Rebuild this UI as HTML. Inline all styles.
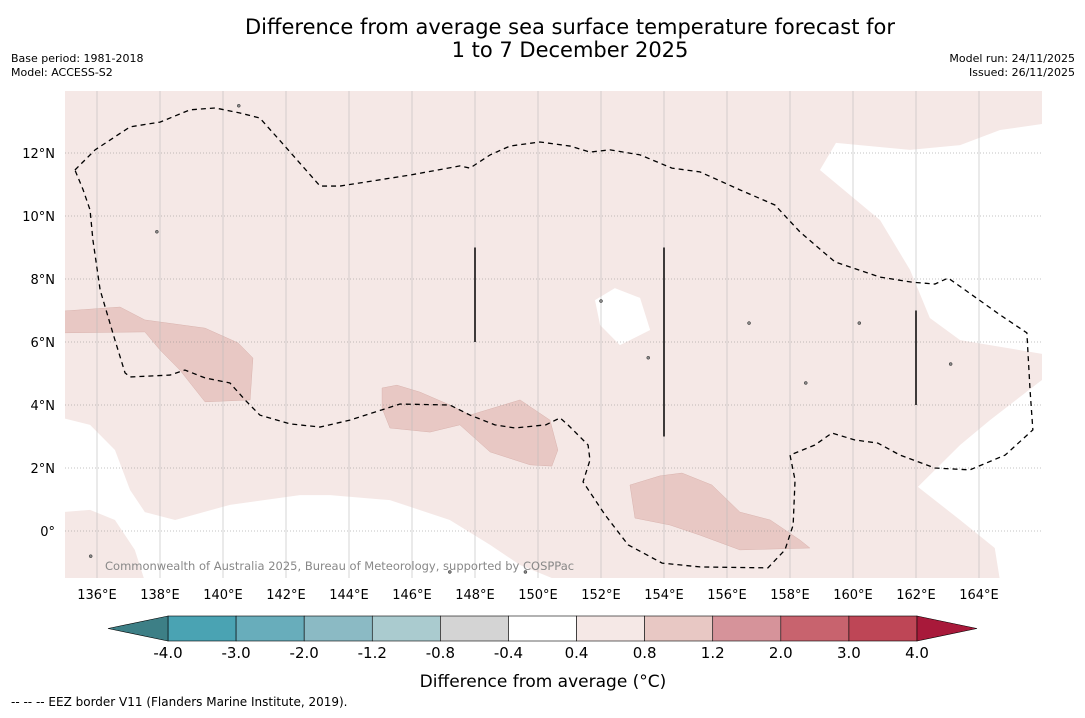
<!DOCTYPE html>
<html><head><meta charset="utf-8">
<style>
body{margin:0;background:#fff;font-family:"Liberation Sans","DejaVu Sans",sans-serif;}
svg text{font-family:"DejaVu Sans","Liberation Sans",sans-serif;}
</style></head>
<body>
<svg id="chart" width="1085" height="713" xmlns="http://www.w3.org/2000/svg">
<rect width="1085" height="713" fill="#fff"/>
<text x="570" y="34" font-size="21" text-anchor="middle">Difference from average sea surface temperature forecast for</text>
<text x="570" y="57" font-size="21" text-anchor="middle">1 to 7 December 2025</text>
<text x="11" y="62" font-size="11">Base period: 1981-2018</text>
<text x="11" y="76" font-size="11">Model: ACCESS-S2</text>
<text x="1075" y="62" font-size="11" text-anchor="end">Model run: 24/11/2025</text>
<text x="1075" y="76" font-size="11" text-anchor="end">Issued: 26/11/2025</text>
<defs><clipPath id="mapclip"><rect x="65" y="91" width="977" height="487"/></clipPath></defs>
<g id="map" clip-path="url(#mapclip)"></g>
<g id="axes"></g>
<g id="cbar"></g>
<text x="543" y="687" font-size="17" text-anchor="middle">Difference from average (°C)</text>
<text x="11" y="706" font-size="12">--  --  -- EEZ border V11 (Flanders Marine Institute, 2019).</text>
</svg>
<script>
const lonTicks=[136,138,140,142,144,146,148,150,152,154,156,158,160,162,164];
const latTicks=[0,2,4,6,8,10,12];
const levelLabels=["-4.0","-3.0","-2.0","-1.2","-0.8","-0.4","0.4","0.8","1.2","2.0","3.0","4.0"];
const levelColors=["#4aa3b3","#68adbb","#8bbac4","#aacbcf","#d4d4d4","#ffffff","#f5e8e6","#e8c8c4","#d6939a","#c8636e","#be4656"];
const underColor="#3d7f86", overColor="#a8193a";
const whiteTopRight=[[158.95,11.46],[159.46,12.32],[161.81,12.10],[163.40,12.25],[164.67,12.73],[166.2,12.95],[166.2,5.59],[163.40,6.06],[162.44,6.76],[161.81,8.29],[160.86,9.87]];
const whiteBottomRight=[[166.2,4.95],[164.35,3.52],[163.4,2.73],[162.06,1.40],[163.4,0.35],[164.5,-0.54],[164.67,-1.6],[166.2,-1.6]];
const whiteBottomLeft=[[134.9,3.59],[135.78,3.37],[136.57,2.57],[137.05,1.30],[137.52,0.6],[138.48,0.35],[140.22,0.83],[142.44,1.14],[143.4,1.14],[145.3,0.98],[147.2,0.35],[148.48,-0.44],[149.43,-1.08],[150.7,-1.6],[137.52,-1.6],[137.2,-0.6],[136.57,0.35],[135.78,0.67],[134.9,0.6]];
const whiteIsland=[[151.81,7.33],[152.44,7.71],[153.24,7.40],[153.56,6.38],[152.6,5.90],[151.97,6.54]];
const warmA=[[134.9,6.98],[136.73,7.11],[137.52,6.70],[139.43,6.44],[140.48,5.97],[140.95,5.49],[140.86,4.16],[139.43,4.10],[138.63,5.11],[138.0,5.75],[137.52,6.32],[134.9,6.29]];
const warmB=[[145.05,4.54],[145.52,4.63],[146.25,4.41],[147.2,4.0],[147.84,3.68],[149.43,4.16],[150.38,3.52],[150.63,2.57],[150.44,2.06],[149.75,2.10],[148.48,2.51],[147.52,3.37],[146.57,3.14],[145.3,3.27],[145.05,3.9]];
const warmC=[[152.92,1.46],[153.87,1.75],[154.57,1.84],[155.52,1.46],[156.41,0.6],[157.37,0.35],[158.32,-0.29],[158.63,-0.54],[156.41,-0.6],[155.14,-0.13],[154.19,0.19],[153.08,0.41]];
const eez=[[135.30,11.46],[135.94,12.10],[137.05,12.83],[138.0,12.98],[138.95,13.37],[139.75,13.43],[140.54,13.27],[141.17,13.11],[142.13,12.03],[143.08,10.95],[143.71,10.95],[145.94,11.30],[147.52,11.59],[147.84,11.52],[148.48,11.94],[149.11,12.22],[150.06,12.35],[151.02,12.22],[151.65,12.03],[152.29,12.10],[153.24,11.94],[154.25,11.52],[155.14,11.40],[156.41,10.83],[157.52,10.35],[158.32,9.49],[159.43,8.54],[160.86,8.06],[161.87,7.90],[162.60,7.84],[163.02,8.03],[163.56,7.65],[164.67,6.86],[165.52,6.29],[165.62,4.48],[165.71,3.21],[164.83,2.41],[163.71,1.94],[162.60,2.0],[161.49,2.41],[160.79,2.79],[160.06,2.89],[159.33,3.11],[158.79,2.73],[158.0,2.41],[158.16,1.62],[158.10,0.19],[157.84,-0.60],[157.30,-1.17],[155.14,-1.14],[153.94,-1.02],[152.86,-0.44],[152.13,0.51],[151.43,1.56],[151.65,2.25],[151.59,2.73],[150.95,3.37],[150.70,3.59],[150.25,3.37],[149.27,3.27],[148.63,3.37],[147.84,3.68],[147.2,4.0],[145.62,4.03],[144.03,3.52],[143.08,3.30],[142.13,3.40],[141.17,3.68],[140.70,4.16],[140.22,4.70],[139.43,4.86],[138.79,5.11],[138.32,4.95],[137.05,4.89],[136.89,5.02],[136.57,6.06],[136.10,7.65],[135.87,9.24],[135.78,10.19],[135.56,10.83],[135.30,11.46]];
const boundaryLines=[[148,9,6],[154,9,3],[162,7,4]];
const islands=[[147.2,-1.3],[140.5,13.5],[137.9,9.5],[135.8,-0.8],[160.2,6.6],[163.1,5.3],[158.5,4.7],[152.0,7.3],[153.5,5.5],[156.7,6.6],[149.6,-1.3]];

const NS="http://www.w3.org/2000/svg";
const X=lon=>97+(lon-136)*31.5;
const Y=lat=>531-lat*31.5;
function mk(tag,attrs,parent){const e=document.createElementNS(NS,tag);for(const k in attrs)e.setAttribute(k,attrs[k]);parent.appendChild(e);return e;}
const map=document.getElementById('map'),axes=document.getElementById('axes'),cbar=document.getElementById('cbar');
const bg=mk('rect',{x:65,y:91,width:977,height:487,fill:"#f5e8e6"},map);


const pts=a=>a.map(p=>X(p[0])+","+Y(p[1])).join(" ");
const regions=[["white-region-ne",whiteTopRight,"#fff"],["white-region-se",whiteBottomRight,"#fff"],["white-region-sw",whiteBottomLeft,"#fff"],["white-region-center",whiteIsland,"#fff"],["warm-region-west",warmA,"#e8c8c4"],["warm-region-central",warmB,"#e8c8c4"],["warm-region-south",warmC,"#e8c8c4"]];
regions.forEach(r=>{const p=mk('polygon',{points:pts(r[1]),fill:r[2],stroke:r[2]=="#fff"?"none":"#d9b3ae","stroke-width":0.5},map);

});
lonTicks.forEach(l=>{const g=mk('line',{x1:X(l),x2:X(l),y1:91,y2:578,stroke:"#bbb","stroke-width":0.6},map);


const t=mk('text',{x:X(l),y:599,"font-size":13,"text-anchor":"middle"},axes);t.textContent=l+"°E";

});
latTicks.forEach(l=>{const g=mk('line',{x1:65,x2:1042,y1:Y(l),y2:Y(l),stroke:"#888","stroke-width":0.6,"stroke-dasharray":"1,2"},map);


const t=mk('text',{x:55,y:Y(l)+5,"font-size":13,"text-anchor":"end"},axes);t.textContent=l==0?"0°":l+"°N";

});
const ez=mk('polyline',{points:pts(eez),fill:"none",stroke:"#000","stroke-width":1.3,"stroke-dasharray":"5,4"},map);


boundaryLines.forEach(b=>{const l=mk('line',{x1:X(b[0]),x2:X(b[0]),y1:Y(b[1]),y2:Y(b[2]),stroke:"#000","stroke-width":1.5},map);

});
islands.forEach(i=>{const c=mk('circle',{cx:X(i[0]),cy:Y(i[1]),r:1.5,fill:"#888",stroke:"#222","stroke-width":0.5},map);

});
const cr=mk('text',{x:105,y:570,"font-size":11.5,fill:"#888"},map);cr.textContent="Commonwealth of Australia 2025, Bureau of Meteorology, supported by COSPPac";


const cx0=168,cx1=917,cy=616,ch=25,bw=(cx1-cx0)/levelColors.length;
levelColors.forEach((c,i)=>{const r=mk('rect',{x:cx0+i*bw,y:cy,width:bw,height:ch,fill:c,stroke:"#000","stroke-width":0.6},cbar);

});
const lt=mk('polygon',{points:`${cx0},${cy} 108,${cy+ch/2} ${cx0},${cy+ch}`,fill:underColor,stroke:"#000","stroke-width":0.6},cbar);


const rt=mk('polygon',{points:`${cx1},${cy} 977,${cy+ch/2} ${cx1},${cy+ch}`,fill:overColor,stroke:"#000","stroke-width":0.6},cbar);


levelLabels.forEach((s,i)=>{const t=mk('text',{x:cx0+i*bw,y:658,"font-size":15,"text-anchor":"middle"},cbar);t.textContent=s;

});
</script>
</body></html>
